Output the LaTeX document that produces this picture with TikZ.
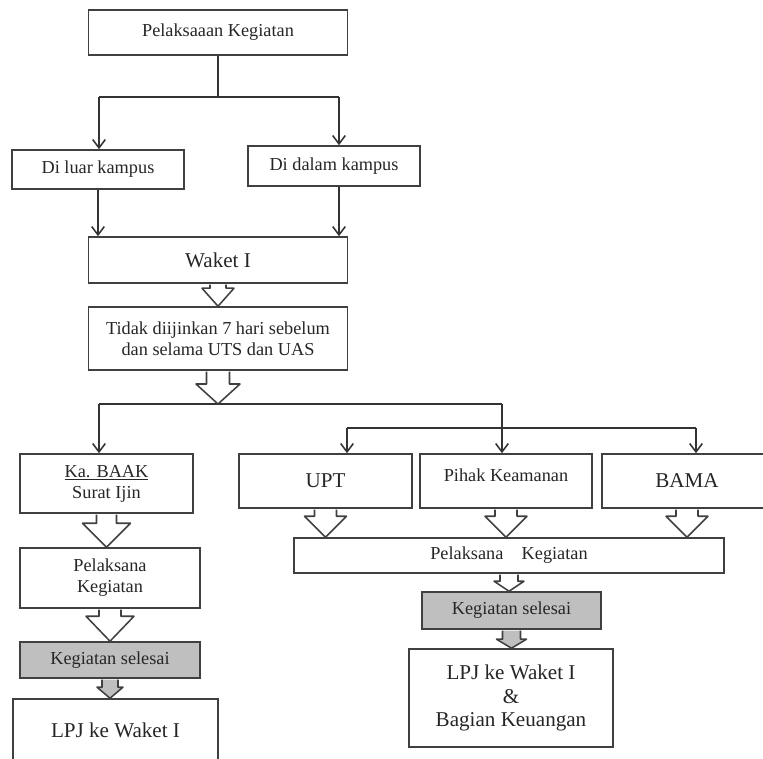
\documentclass[tikz,border=0pt]{standalone}
\usepackage{fontspec}
\setmainfont{Liberation Serif}
\usetikzlibrary{arrows.meta,calc}
\newcommand{\blockarrow}[6][white]{%
	\draw[line width=1.1pt,draw=black!75,fill=#1,line join=round]
		($(#2)+(-#4,0.8)$) -- ($(#3)+(-#4,-#6)$) -- ($(#3)+(-#5,-#6)$) -- (#3)
		-- ($(#3)+(#5,-#6)$) -- ($(#3)+(#4,-#6)$) -- ($(#2)+(#4,0.8)$);}

\begin{document}
\begin{tikzpicture}[x=0.025cm,y=-0.025cm,
		box/.style={rectangle,draw=black!75,line width=1.1pt,inner sep=2pt,align=center,text=black!85},
		small/.style={box,font=\fontsize{13}{15}\selectfont},
		large/.style={box,font=\fontsize{15}{17}\selectfont},
		done/.style={small,fill=black!25},
		line/.style={draw=black!80,line width=1.1pt},
		arr/.style={line,-{Straight Barb[length=6pt,width=9pt]}}]
		\useasboundingbox (0,0) rectangle (763,758);
		\clip (0,0) rectangle (763,758);

		% upper part
		\node [small,minimum width=6.475cm,minimum height=1.125cm] (pk) at (218,32.5) {Pelaksaaan Kegiatan};
		\node [small,minimum width=4.3cm,minimum height=0.975cm] (luar) at (98,169.5) {Di luar kampus};
		\node [small,minimum width=4.3cm,minimum height=1cm] (dalam) at (334,166) {Di dalam kampus};
		\node [large,minimum width=6.475cm,minimum height=1.15cm] (waket) at (218,260) {Waket I};
		\node [small,minimum width=6.475cm,minimum height=1.575cm] (tidak) at (218,338.5) {Tidak diijinkan 7 hari sebelum\\dan selama UTS dan UAS};

		% left column
		\node [small,minimum width=4.325cm,minimum height=1.475cm] (baak) at (106.5,483.5) {\underline{Ka. BAAK}\\Surat Ijin};
		\node [small,minimum width=4.5cm,minimum height=1.5cm] (pel1) at (110,578) {Pelaksana\\Kegiatan};
		\node [done,minimum width=4.5cm,minimum height=0.9cm] (sel1) at (110,660) {Kegiatan selesai};
		\node [large,minimum width=5.125cm,minimum height=1.55cm] (lpj1) at (115.5,730) {LPJ ke Waket I};

		% right column
		\node [large,minimum width=4.325cm,minimum height=1.35cm] (upt) at (325.5,481) {UPT};
		\node [small,minimum width=4.3cm,minimum height=1.35cm,text depth=8.5pt] (aman) at (506,481) {Pihak Keamanan};
		\node [large,minimum width=4.25cm,minimum height=1.35cm] (bama) at (687,481) {BAMA};
		\node [small,minimum width=10.75cm,minimum height=0.875cm] (pel2) at (509,555.5) {Pelaksana\quad Kegiatan};
		\node [done,minimum width=4.475cm,minimum height=0.925cm] (sel2) at (511.5,610.5) {Kegiatan selesai};
		\node [large,minimum width=5.1cm,minimum height=2.45cm] (lpj2) at (511,698) {LPJ ke Waket I\\\&\\Bagian Keuangan};

		% branch points
		\coordinate (top) at (218,97);
		\coordinate (topl) at (99,97);
		\coordinate (topr) at (339,97);
		\coordinate (midl) at (99,404);
		\coordinate (midr) at (502,404);
		\coordinate (subl) at (347,428);
		\coordinate (subr) at (696,428);

		\draw [line] (pk.south) -- (top);
		\draw [line] (topl) -- (topr);
		\draw [arr] (topl) -- (topl |- luar.north);
		\draw [arr] (topr) -- (topr |- dalam.north);
		\draw [arr] (luar.south) -- (luar.south |- waket.north);
		\draw [arr] (topr |- dalam.south) -- (topr |- waket.north);

		\draw [line] (midl) -- (midr);
		\draw [arr] (midl) -- (midl |- baak.north);
		\draw [arr] (midr) -- (midr |- aman.north);
		\draw [line] (subl) -- (subr);
		\draw [arr] (subl) -- (subl |- upt.north);
		\draw [arr] (subr) -- (subr |- bama.north);

		% block arrows
		\blockarrow{waket.south}{waket.south |- tidak.north}{8}{16}{18}
		\blockarrow{tidak.south}{tidak.south |- midl}{11.5}{22}{20}
		\blockarrow{baak.south}{baak.south |- pel1.north}{10}{24}{24}
		\blockarrow{pel1.south}{pel1.south |- sel1.north}{11}{24}{25}
		\blockarrow[black!25]{sel1.south}{sel1.south |- lpj1.north}{8}{13}{11}
		\blockarrow{upt.south}{upt.south |- pel2.north}{11}{21}{21}
		\blockarrow{aman.south}{aman.south |- pel2.north}{11}{21}{21}
		\blockarrow{bama.south}{bama.south |- pel2.north}{11}{21}{21}
		\blockarrow{pel2.south}{pel2.south |- sel2.north}{9}{15}{10}
		\blockarrow[black!25]{sel2.south}{sel2.south |- lpj2.north}{9}{15}{9}
\end{tikzpicture}
\end{document}
